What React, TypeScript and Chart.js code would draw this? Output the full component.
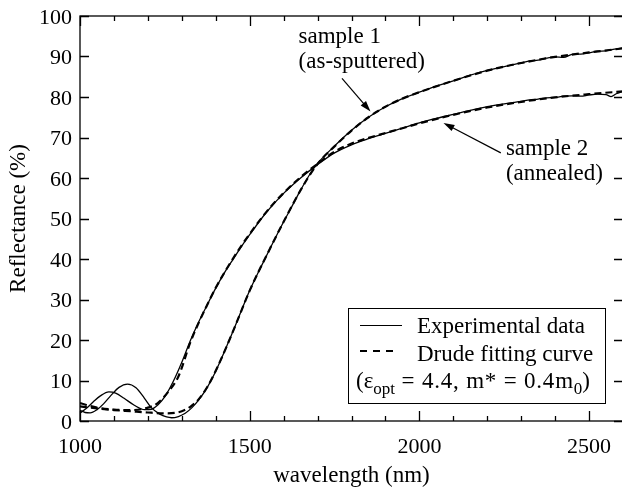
import React, { useEffect, useRef } from "react";
import { Chart, registerables } from "chart.js";

Chart.register(...registerables);

const FONT = "'Liberation Serif', 'Times New Roman', serif";

// Sample 1 (as-sputtered) – experimental
const S1_EXP_WL = [1000, 1015, 1030, 1050, 1070, 1090, 1115, 1140, 1165, 1190, 1210, 1235, 1255, 1270, 1290, 1310, 1330, 1350, 1375, 1400, 1430, 1460, 1480, 1500, 1530, 1560, 1600, 1620, 1650, 1680, 1700, 1750, 1800, 1850, 1900, 1950, 2000, 2050, 2100, 2150, 2200, 2250, 2300, 2325, 2350, 2375, 2400, 2425, 2450, 2475, 2500, 2525, 2550, 2575, 2600];
const S1_EXP_R = [2.6, 2.1, 2.0, 2.8, 4.3, 6.2, 8.3, 9.1, 8.2, 5.6, 3.3, 1.7, 1.0, 0.8, 1.1, 1.9, 3.3, 5.2, 8.3, 12.3, 18.0, 24.0, 28.2, 32.2, 37.5, 42.6, 49.2, 52.3, 57.0, 61.3, 63.6, 67.9, 71.8, 75.0, 77.6, 79.6, 81.2, 82.7, 84.0, 85.4, 86.6, 87.5, 88.4, 88.9, 89.1, 89.6, 89.9, 89.8, 90.5, 90.6, 90.9, 91.3, 91.4, 91.8, 92.1];

// Sample 1 – Drude fit
const S1_FIT_WL = [1000, 1050, 1100, 1150, 1200, 1250, 1280, 1300, 1325, 1350, 1375, 1400, 1430, 1460, 1500, 1560, 1600, 1650, 1700, 1750, 1800, 1850, 1900, 1950, 2000, 2100, 2200, 2300, 2400, 2500, 2600];
const S1_FIT_R = [3.6, 3.1, 2.7, 2.4, 2.1, 1.9, 2.0, 2.4, 3.5, 5.4, 8.4, 12.4, 18.0, 24.0, 32.2, 42.6, 49.2, 57.0, 63.5, 67.8, 71.7, 75.0, 77.6, 79.6, 81.2, 84.0, 86.5, 88.4, 89.9, 91.0, 92.0];

// Sample 2 (annealed) – experimental
const S2_EXP_WL = [1000, 1020, 1040, 1060, 1085, 1105, 1130, 1160, 1190, 1210, 1230, 1250, 1275, 1300, 1325, 1350, 1375, 1400, 1425, 1450, 1475, 1500, 1550, 1600, 1650, 1700, 1750, 1800, 1850, 1900, 1950, 2000, 2050, 2100, 2150, 2200, 2250, 2300, 2325, 2350, 2375, 2400, 2425, 2450, 2475, 2500, 2525, 2550, 2565, 2580, 2600];
const S2_EXP_R = [2.0, 3.2, 4.8, 6.2, 7.2, 6.9, 5.6, 3.9, 2.8, 2.9, 4.0, 6.0, 9.8, 14.5, 19.8, 24.5, 28.7, 32.8, 36.5, 39.8, 43.0, 46.0, 51.6, 56.2, 60.0, 63.3, 66.2, 68.2, 69.7, 71.0, 72.3, 73.6, 74.7, 75.7, 76.7, 77.6, 78.3, 78.9, 79.3, 79.5, 79.8, 79.9, 80.2, 80.3, 80.2, 80.5, 80.7, 80.6, 80.1, 80.8, 81.4];

// Sample 2 – Drude fit
const S2_FIT_WL = [1000, 1050, 1100, 1150, 1200, 1230, 1260, 1290, 1325, 1350, 1375, 1400, 1450, 1500, 1550, 1600, 1650, 1700, 1750, 1800, 1850, 1900, 1950, 2000, 2100, 2200, 2300, 2400, 2500, 2600];
const S2_FIT_R = [4.4, 3.3, 2.8, 2.7, 3.3, 4.5, 7.2, 11.0, 19.4, 24.3, 28.7, 32.9, 40.0, 46.2, 51.7, 56.3, 60.2, 63.5, 66.5, 68.5, 69.9, 71.1, 72.3, 73.5, 75.6, 77.4, 78.8, 79.9, 80.7, 81.4];

const X_MIN = 1000;
const X_MAX = 2600;
const X_TICKS = [1000, 1500, 2000, 2500];
const Y_MIN = 0;
const Y_MAX = 100;
const Y_TICKS = [0, 10, 20, 30, 40, 50, 60, 70, 80, 90, 100];
const X_MINOR_STEP = 100;
const X_MAJOR_STEP = 500;

const pts = (xs: number[], ys: number[]) => xs.map((x, i) => ({ x, y: ys[i] }));

function drawArrow(ctx: CanvasRenderingContext2D, x1: number, y1: number, x2: number, y2: number) {
  const ang = Math.atan2(y2 - y1, x2 - x1);
  const hl = 11;
  const hw = 3.5;
  ctx.beginPath();
  ctx.moveTo(x1, y1);
  ctx.lineTo(x2 - Math.cos(ang) * hl * 0.8, y2 - Math.sin(ang) * hl * 0.8);
  ctx.lineWidth = 1.2;
  ctx.stroke();
  ctx.beginPath();
  ctx.moveTo(x2, y2);
  ctx.lineTo(x2 - Math.cos(ang) * hl - Math.sin(ang) * hw, y2 - Math.sin(ang) * hl + Math.cos(ang) * hw);
  ctx.lineTo(x2 - Math.cos(ang) * hl + Math.sin(ang) * hw, y2 - Math.sin(ang) * hl - Math.cos(ang) * hw);
  ctx.closePath();
  ctx.fill();
}

const decorPlugin = {
  id: "decor",
  afterDraw(chart: any) {
    const { ctx, chartArea: a, scales } = chart;
    const xs = scales.x;
    const ys = scales.y;
    ctx.save();
    ctx.strokeStyle = "#000";
    ctx.fillStyle = "#000";
    ctx.lineWidth = 1.3;
    // frame
    ctx.strokeRect(a.left, a.top, a.right - a.left, a.bottom - a.top);
    // x ticks (inward, top and bottom)
    ctx.beginPath();
    for (let v = X_MIN; v <= X_MAX; v += X_MINOR_STEP) {
      const px = Math.round(xs.getPixelForValue(v)) + 0.5;
      const len = v % X_MAJOR_STEP === 0 ? 10 : 5;
      ctx.moveTo(px, a.bottom);
      ctx.lineTo(px, a.bottom - len);
      ctx.moveTo(px, a.top);
      ctx.lineTo(px, a.top + len);
    }
    for (const v of Y_TICKS) {
      const py = Math.round(ys.getPixelForValue(v)) + 0.5;
      ctx.moveTo(a.left, py);
      ctx.lineTo(a.left + 9, py);
      ctx.moveTo(a.right, py);
      ctx.lineTo(a.right - 9, py);
    }
    ctx.stroke();

    // annotations
    ctx.font = `23px ${FONT}`;
    ctx.textAlign = "left";
    ctx.textBaseline = "alphabetic";
    const X = (v: number) => xs.getPixelForValue(v);
    const Y = (v: number) => ys.getPixelForValue(v);
    ctx.fillText("sample 1", X(1644), Y(93.3));
    ctx.fillText("(as-sputtered)", X(1644), Y(87.2));
    drawArrow(ctx, X(1772), Y(84.6), X(1856), Y(76.4));
    ctx.fillText("sample 2", X(2255), Y(65.7));
    ctx.fillText("(annealed)", X(2255), Y(59.5));
    drawArrow(ctx, X(2240), Y(66.2), X(2071), Y(73.6));

    // legend box
    const bx = 348.5, by = 308.5, bw = 257, bh = 95;
    ctx.lineWidth = 1;
    ctx.strokeRect(bx, by, bw, bh);
    ctx.lineWidth = 1.2;
    ctx.beginPath();
    ctx.moveTo(360, 325.5);
    ctx.lineTo(402, 325.5);
    ctx.stroke();
    ctx.lineWidth = 2;
    ctx.setLineDash([7, 6]);
    ctx.beginPath();
    ctx.moveTo(360, 351);
    ctx.lineTo(395, 351);
    ctx.stroke();
    ctx.setLineDash([]);
    ctx.fillText("Experimental data", 417, 333);
    ctx.fillText("Drude fitting curve", 417, 361);
    // third line with subscripts
    let cx = 356;
    const base = 388;
    const parts: [string, boolean, number][] = [["(ε", false, 0], ["opt", true, 0], [" = 4.4, m* = 0.4m", false, 0.8], ["0", true, 0], [")", false, 0]];
    for (const [t, sub, ls] of parts) {
      ctx.font = sub ? `17px ${FONT}` : `23px ${FONT}`;
      (ctx as any).letterSpacing = `${ls}px`;
      ctx.fillText(t, cx, sub ? base + 6 : base);
      cx += ctx.measureText(t).width;
    }
    (ctx as any).letterSpacing = "0px";
    ctx.restore();
  },
};

export default function App() {
  const ref = useRef<HTMLCanvasElement | null>(null);
  useEffect(() => {
    if (!ref.current) return;
    const solid = { borderColor: "#000", borderWidth: 1.3, pointRadius: 0, fill: false, cubicInterpolationMode: "monotone" as const };
    const dashed = { borderColor: "#000", borderWidth: 2.2, borderDash: [7, 4], pointRadius: 0, fill: false, cubicInterpolationMode: "monotone" as const };
    const chart = new Chart(ref.current, {
      type: "line",
      data: {
        datasets: [
          { label: "Sample 1 fit", data: pts(S1_FIT_WL, S1_FIT_R), ...dashed },
          { label: "Sample 2 fit", data: pts(S2_FIT_WL, S2_FIT_R), ...dashed },
          { label: "Sample 1 experimental", data: pts(S1_EXP_WL, S1_EXP_R), ...solid },
          { label: "Sample 2 experimental", data: pts(S2_EXP_WL, S2_EXP_R), ...solid },
        ],
      },
      options: {
        responsive: false,
        animation: false,
        devicePixelRatio: 1,
        layout: { padding: { left: 0, top: 16, right: 2, bottom: 0 } },
        plugins: { legend: { display: false }, tooltip: { enabled: false } },
        scales: {
          x: {
            type: "linear",
            min: X_MIN,
            max: X_MAX,
            grid: { display: false, drawTicks: false, tickLength: 0 },
            border: { display: false },
            afterBuildTicks: (s: any) => { s.ticks = X_TICKS.map((value) => ({ value })); },
            ticks: {
              autoSkip: false,
              maxRotation: 0,
              padding: 13,
              color: "#000",
              font: { family: FONT, size: 22 },
              callback: (v: any) => String(v),
            },
            title: { display: true, text: "wavelength (nm)", color: "#000", font: { family: FONT, size: 23 }, padding: { top: 0, bottom: 0 } },
            afterFit: (s: any) => { s.height = 69; s.paddingLeft = 0; s.paddingRight = 0; },
          },
          y: {
            type: "linear",
            min: Y_MIN,
            max: Y_MAX,
            grid: { display: false, drawTicks: false, tickLength: 0 },
            border: { display: false },
            afterBuildTicks: (s: any) => { s.ticks = Y_TICKS.map((value) => ({ value })); },
            ticks: { padding: 8, labelOffset: 2, color: "#000", font: { family: FONT, size: 22 }, callback: (v: any) => String(v) },
            title: { display: true, text: "Reflectance (%)", color: "#000", font: { family: FONT, size: 23 }, padding: { top: 5, bottom: 0 } },
            afterFit: (s: any) => { s.width = 80; s.paddingTop = 0; s.paddingBottom = 0; },
          },
        },
      },
      plugins: [decorPlugin],
    });
    return () => chart.destroy();
  }, []);
  return (
    <div style={{ position: "absolute", left: 0, top: 0, width: 622, height: 490, overflow: "hidden", background: "#fff" }}>
      <canvas ref={ref} width={625} height={490} style={{ display: "block" }} />
    </div>
  );
}
